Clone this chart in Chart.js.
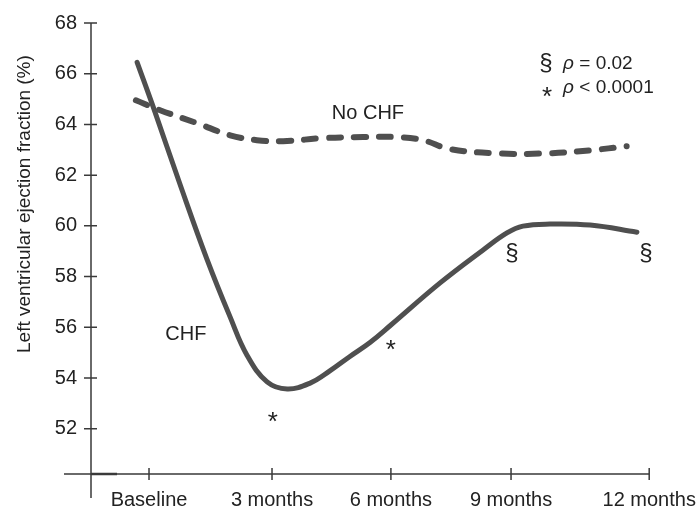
<!DOCTYPE html>
<html><head><meta charset="utf-8">
<script src="https://cdn.jsdelivr.net/npm/chart.js@4/dist/chart.umd.min.js"></script>
<style>html,body{margin:0;padding:0;background:#fff;}#wrap{width:699px;height:508px;position:relative;}</style>
</head><body><div id="wrap"><canvas id="c" width="699" height="508"></canvas></div>
<script>
// ---- data ----
const tickLabels = ['Baseline', '3 months', '6 months', '9 months', '12 months'];
const tickPositions = [0, 3, 5.9, 8.83, 12.2];
const yTicks = [52, 54, 56, 58, 60, 62, 64, 66, 68];
const yTitle = 'Left ventricular ejection fraction (%)';

const chfX = [-0.29, 0.10, 0.76, 1.41, 1.98, 2.39, 2.88, 3.37, 3.93, 4.41, 4.90, 5.39, 5.90, 7.10, 8.15, 8.73, 9.12, 9.78, 10.76, 11.90];
const chfY = [66.45, 64.70, 61.62, 58.70, 56.40, 54.90, 53.85, 53.57, 53.80, 54.28, 54.85, 55.40, 56.09, 57.75, 59.05, 59.72, 59.99, 60.07, 60.03, 59.75];

const noChfX = [-0.32, 0.27, 1.17, 1.98, 2.63, 3.27, 4.24, 5.22, 6.05, 6.68, 7.34, 8.49, 9.71, 10.76, 11.65];
const noChfY = [64.95, 64.56, 64.05, 63.57, 63.38, 63.34, 63.46, 63.50, 63.50, 63.38, 63.03, 62.86, 62.86, 62.98, 63.14];

// annotation texts with anchor positions in data units
const annotations = [
  {text: 'No CHF', x: 5.34, y: 64.44, kind: 'label'},
  {text: 'CHF', x: 0.90, y: 55.73, kind: 'label'},
  {text: '*', x: 3.02, y: 52.54, kind: 'star'},
  {text: '*', x: 5.90, y: 55.38, kind: 'star'},
  {text: '§', x: 8.85, y: 58.92, kind: 'sect'},
  {text: '§', x: 12.12, y: 58.92, kind: 'sect'}
];
const legendRows = [
  {sym: '§', text: 'ρ = 0.02', x: 9.68, tx: 10.10, y: 66.40},
  {sym: '*', text: 'ρ < 0.0001', x: 9.71, tx: 10.10, y: 65.43}
];

const FONT = '"Liberation Sans", Arial, sans-serif';
const LINE = '#4f4f4f';
const AXIS = '#3a3a3a';
const TXT = '#222';

const axesPlugin = {
  id: 'axesPlugin',
  beforeDatasetsDraw(chart) {
    const ctx = chart.ctx, xs = chart.scales.x, ys = chart.scales.y;
    const x0 = xs.left, y0 = ys.bottom;
    ctx.save();
    ctx.strokeStyle = AXIS;
    ctx.lineWidth = 1.5;
    ctx.beginPath();
    ctx.moveTo(x0, ys.getPixelForValue(68)); ctx.lineTo(x0, y0 + 24);
    ctx.moveTo(x0 - 27, y0); ctx.lineTo(xs.right, y0);
    yTicks.forEach(v => { const p = ys.getPixelForValue(v); ctx.moveTo(x0 - 7, p); ctx.lineTo(x0 + 6, p); });
    tickPositions.forEach(v => { const p = xs.getPixelForValue(v); ctx.moveTo(p, y0 - 6); ctx.lineTo(p, y0 + 6); });
    ctx.stroke();
    ctx.lineWidth = 2.5;
    ctx.beginPath(); ctx.moveTo(x0, y0); ctx.lineTo(x0 + 26, y0); ctx.stroke();
    // y title
    ctx.fillStyle = TXT;
    ctx.font = '19px ' + FONT;
    ctx.textAlign = 'center'; ctx.textBaseline = 'middle';
    ctx.translate(25, ys.getPixelForValue(60.86));
    ctx.rotate(-Math.PI / 2);
    ctx.fillText(yTitle, 0, 0);
    ctx.restore();
  },
  afterDatasetsDraw(chart) {
    const ctx = chart.ctx, xs = chart.scales.x, ys = chart.scales.y;
    ctx.save();
    ctx.fillStyle = TXT;
    ctx.textAlign = 'center';
    annotations.forEach(a => {
      const px = xs.getPixelForValue(a.x), py = ys.getPixelForValue(a.y);
      if (a.kind === 'star') {
        ctx.font = '26px ' + FONT; ctx.textBaseline = 'alphabetic';
        ctx.fillText(a.text, px, py + 15);
      } else if (a.kind === 'sect') {
        ctx.font = '24px ' + FONT; ctx.textBaseline = 'middle';
        ctx.fillText(a.text, px, py);
      } else {
        ctx.font = '20px ' + FONT; ctx.textBaseline = 'middle';
        ctx.fillText(a.text, px, py);
      }
    });
    legendRows.forEach(r => {
      const px = xs.getPixelForValue(r.x), py = ys.getPixelForValue(r.y);
      ctx.textAlign = 'center';
      if (r.sym === '*') {
        ctx.font = '26px ' + FONT; ctx.textBaseline = 'alphabetic';
        ctx.fillText(r.sym, px, py + 17);
      } else {
        ctx.font = '24px ' + FONT; ctx.textBaseline = 'middle';
        ctx.fillText(r.sym, px, py);
      }
      ctx.textAlign = 'left'; ctx.textBaseline = 'middle';
      ctx.font = 'italic 19px ' + FONT;
      const tx = xs.getPixelForValue(r.tx);
      const rho = r.text.slice(0, 1), rest = r.text.slice(1);
      ctx.fillText(rho, tx, py);
      const w = ctx.measureText(rho).width;
      ctx.font = '19px ' + FONT;
      ctx.fillText(rest, tx + w, py);
    });
    ctx.restore();
  }
};

new Chart(document.getElementById('c'), {
  type: 'line',
  data: {
    datasets: [
      {
        label: 'CHF',
        data: chfX.map((x, i) => ({x, y: chfY[i]})),
        borderColor: LINE, borderWidth: 5, pointRadius: 0, tension: 0.4,
        borderCapStyle: 'round', borderJoinStyle: 'round', fill: false
      },
      {
        label: 'No CHF',
        data: noChfX.map((x, i) => ({x, y: noChfY[i]})),
        borderColor: LINE, borderWidth: 6, pointRadius: 0, borderDash: [12, 13], tension: 0.4,
        borderCapStyle: 'round', borderJoinStyle: 'round', fill: false
      }
    ]
  },
  options: {
    responsive: false, animation: false, devicePixelRatio: 1,
    layout: {padding: {top: 23, right: 50, left: 0, bottom: 0}},
    plugins: {legend: {display: false}, tooltip: {enabled: false}},
    scales: {
      x: {
        type: 'linear', min: -1.415, max: 12.195,
        afterBuildTicks: s => { s.ticks = tickPositions.map(v => ({value: v})); },
        afterFit: s => { s.height = 34; s.paddingLeft = 0; s.paddingRight = 0; },
        grid: {display: false, drawTicks: false}, border: {display: false},
        ticks: {
          autoSkip: false, maxRotation: 0, padding: 14, color: TXT,
          font: {family: FONT, size: 20},
          callback: (v, i) => tickLabels[i]
        }
      },
      y: {
        type: 'linear', min: 50.215, max: 68,
        afterBuildTicks: s => { s.ticks = yTicks.map(v => ({value: v})); },
        afterFit: s => { s.width = 91; s.paddingTop = 0; s.paddingBottom = 0; },
        grid: {display: false, drawTicks: false}, border: {display: false},
        ticks: {padding: 14, color: TXT, font: {family: FONT, size: 20}, callback: v => String(v)}
      }
    }
  },
  plugins: [axesPlugin]
});
</script></body></html>
